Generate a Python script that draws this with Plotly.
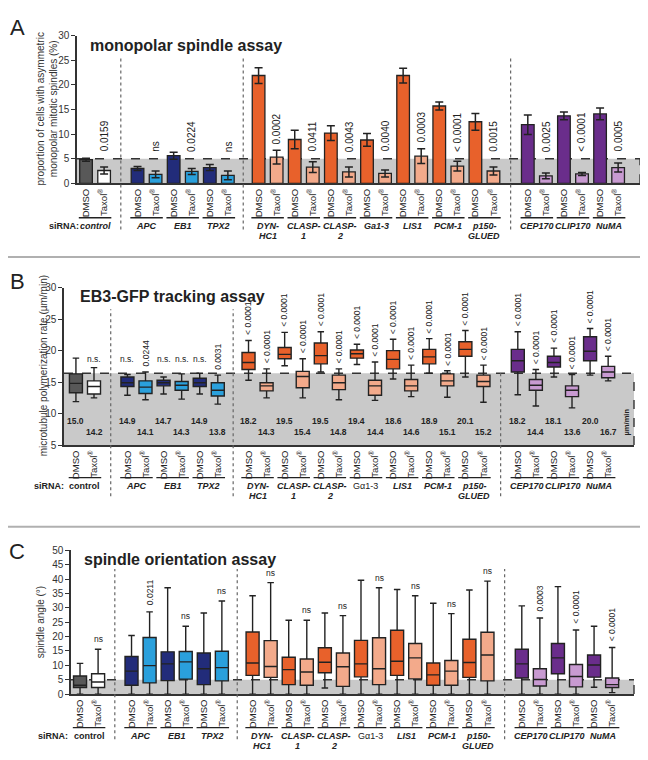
import plotly.graph_objects as go

W, H = 648, 760
FONT = 'Liberation Sans, Arial, sans-serif'

# siRNA groups (14), each with a DMSO and a Taxol condition
groups = ['control', 'APC', 'EB1', 'TPX2', 'DYN-HC1', 'CLASP-1', 'CLASP-2', 'Ga1-3',
          'LIS1', 'PCM-1', 'p150-GLUED', 'CEP170', 'CLIP170', 'NuMA']
group_block = [0, 1, 1, 1, 2, 2, 2, 2, 2, 2, 2, 3, 3, 3]
conditions = ['DMSO', 'Taxol<sup>®</sup>']

# A: monopolar spindle assay (% cells, mean +/- error)
a_dmso = [4.8, 3.0, 5.6, 3.2, 21.9, 8.9, 10.2, 8.8, 21.9, 15.7, 12.5, 11.9, 13.7, 14.1]
a_dmso_err = [0.3, 0.4, 0.7, 0.6, 1.6, 1.9, 1.5, 1.3, 1.5, 0.8, 1.7, 2.0, 0.8, 1.2]
a_taxol = [2.6, 1.8, 2.4, 1.6, 5.3, 3.3, 2.3, 2.0, 5.5, 3.5, 2.5, 1.5, 1.9, 3.2]
a_taxol_err = [0.7, 0.7, 0.6, 0.9, 1.4, 1.1, 1.0, 0.7, 1.5, 1.0, 0.8, 0.6, 0.3, 0.9]
a_pvals = ['0.0159', 'ns', '0.0224', 'ns', '0.0002', '0.0411', '0.0043', '0.0040',
           '0.0003', '< 0.0001', '0.0015', '0.0025', '< 0.0001', '0.0005']
a_threshold = 5

# B: EB3-GFP tracking (µm/min), box stats
b_dmso_lo = [11.9, 12.9, 13.1, 13.1, 15.3, 17.6, 16.6, 17.8, 15.5, 16.4, 15.8, 13.0, 15.8, 16.1]
b_dmso_q1 = [13.3, 14.3, 14.4, 14.3, 17.0, 18.7, 17.9, 18.8, 17.1, 17.9, 19.1, 16.6, 17.4, 18.4]
b_dmso_med = [14.8, 14.9, 14.9, 14.9, 18.1, 19.4, 19.2, 19.5, 18.6, 19.0, 20.2, 18.4, 18.1, 19.9]
b_dmso_q3 = [16.3, 15.8, 15.3, 15.6, 19.7, 20.5, 21.2, 20.1, 20.0, 20.2, 21.4, 20.2, 19.1, 22.2]
b_dmso_hi = [18.8, 16.2, 15.8, 16.4, 21.6, 22.9, 23.0, 21.0, 21.8, 21.9, 23.2, 23.0, 20.4, 23.5]
b_taxol_lo = [12.5, 12.2, 12.3, 11.5, 12.5, 12.5, 12.2, 12.1, 12.7, 12.6, 11.8, 11.2, 10.9, 15.2]
b_taxol_q1 = [13.1, 13.2, 13.7, 12.8, 13.6, 14.1, 13.8, 12.9, 13.6, 14.4, 14.3, 13.7, 12.7, 15.7]
b_taxol_med = [14.3, 14.2, 14.5, 13.7, 14.4, 15.9, 14.9, 14.4, 14.4, 15.2, 15.1, 14.5, 13.7, 16.6]
b_taxol_q3 = [15.2, 15.2, 15.1, 14.9, 14.9, 16.7, 16.1, 15.3, 15.4, 16.3, 16.1, 15.4, 14.4, 17.5]
b_taxol_hi = [17.3, 16.6, 16.3, 16.1, 17.1, 18.7, 17.1, 18.2, 17.7, 16.8, 17.7, 17.0, 16.2, 19.1]
b_dmso_mean = ['15.0', '14.9', '14.7', '14.9', '18.2', '19.5', '19.5', '19.4', '18.6', '18.9', '20.1', '18.2', '18.1', '20.0']
b_taxol_mean = ['14.2', '14.1', '14.3', '13.8', '14.3', '15.4', '14.8', '14.4', '14.6', '15.1', '15.2', '14.4', '13.6', '16.7']
b_dmso_p = ['', 'n.s.', 'n.s.', 'n.s.'] + ['< 0.0001'] * 10
b_taxol_p = ['n.s.', '0.0244', 'n.s.', '0.0031'] + ['< 0.0001'] * 10
b_threshold = 16.4

# C: spindle orientation (degrees), box stats
c_dmso_lo = [0, 0, 0, 0, 0, 0, 2.1, 0, 0, 0, 0, 0, 0, 2.4]
c_dmso_q1 = [2.3, 3.1, 4.7, 3.3, 6.5, 3.3, 7.4, 6.0, 6.5, 3.1, 5.8, 5.6, 7.1, 5.9]
c_dmso_med = [3.1, 8.0, 10.5, 8.8, 10.8, 8.5, 11.1, 10.5, 11.4, 6.7, 11.0, 10.5, 12.6, 10.1]
c_dmso_q3 = [6.3, 13.1, 14.7, 14.3, 21.6, 12.8, 16.1, 18.7, 22.2, 10.8, 19.1, 15.6, 17.6, 13.6]
c_dmso_hi = [10.7, 20.4, 37.0, 28.2, 34.2, 25.7, 28.2, 39.6, 36.4, 31.6, 36.2, 30.7, 37.4, 23.6]
c_taxol_lo = [0, 0, 0, 0, 0, 0, 0, 0, 0, 0, 0, 0, 0, 0.5]
c_taxol_q1 = [2.3, 3.9, 5.2, 4.6, 5.8, 3.1, 2.7, 3.3, 5.3, 3.1, 4.6, 2.8, 2.5, 2.3]
c_taxol_med = [4.2, 9.9, 11.2, 9.2, 9.6, 7.7, 9.5, 8.8, 12.6, 8.0, 13.6, 5.1, 6.1, 3.3]
c_taxol_q3 = [7.1, 19.7, 14.8, 14.9, 18.6, 12.2, 14.3, 19.6, 17.6, 11.7, 21.5, 8.8, 10.3, 5.6]
c_taxol_hi = [15.6, 28.6, 23.6, 32.4, 38.8, 25.7, 27.3, 37.0, 34.2, 28.0, 39.3, 26.5, 22.3, 16.2]
c_taxol_p = ['ns', '0.0211', 'ns', 'ns', 'ns', 'ns', 'ns', 'ns', 'ns', 'ns', 'ns',
             '0.0003', '< 0.0001', '< 0.0001']
c_threshold = 5

# colours per block: (DMSO, Taxol)
palette = {0: ('#585858', '#ffffff'), 1: ('#222c7a', '#2aa0dc'),
           2: ('#e8612b', '#f3aa8b'), 3: ('#6a2d8b', '#c89ad1')}
GRAY = '#c9c9c9'
INK = '#222222'

# the page body adds an 8px margin, so screen pixel p sits at paper pixel p - 8
OFF = 8


def py(p):
    return 1 - (p - OFF) / H


def px(p):
    return (p - OFF) / W


def note(x, y, text, xref='paper', yref='paper', size=10, angle=0, xanchor='center',
         yanchor='middle', color=INK):
    return dict(x=x, y=y, xref=xref, yref=yref, text=text, textangle=angle, showarrow=False,
                xanchor=xanchor, yanchor=yanchor, font=dict(size=size, color=color))


# x positions: unit spacing, bigger gaps between blocks
block_start = {0: 0.0, 1: 2.85, 2: 9.55, 3: 24.45}
pos_d, pos_t = [], []
seen = {}
for b in group_block:
    k = seen.get(b, 0)
    pos_d.append(block_start[b] + 2 * k)
    pos_t.append(block_start[b] + 2 * k + 1)
    seen[b] = k + 1

tickvals, ticktext = [], []
for d, t in zip(pos_d, pos_t):
    tickvals += [d, t]
    ticktext += conditions

separators = [(pos_t[0] + pos_d[1]) / 2, (pos_t[3] + pos_d[4]) / 2, (pos_t[10] + pos_d[11]) / 2]

fig = go.Figure()
shapes = []
annotations = []

# ---------------- panel A: bars ----------------
ys, errs, cols = [], [], []
for i in range(len(groups)):
    c_d, c_t = palette[group_block[i]]
    ys += [a_dmso[i], a_taxol[i]]
    errs += [a_dmso_err[i], a_taxol_err[i]]
    cols += [c_d, c_t]
fig.add_trace(go.Bar(x=tickvals, y=ys, width=0.7,
                     marker=dict(color=cols, line=dict(color=INK, width=1.3)),
                     error_y=dict(type='data', array=errs, color=INK, thickness=1.5, width=4),
                     xaxis='x', yaxis='y', showlegend=False, hoverinfo='skip'))
for i in range(len(groups)):
    top = a_taxol[i] + a_taxol_err[i] + 0.8
    annotations.append(note(pos_t[i], max(6, top), a_pvals[i], 'x', 'y', 10, -90,
                            yanchor='bottom'))


# ---------------- panels B, C: boxes ----------------
def add_boxes(ax, lo_d, q1_d, med_d, q3_d, hi_d, lo_t, q1_t, med_t, q3_t, hi_t):
    for i in range(len(groups)):
        c_d, c_t = palette[group_block[i]]
        for pos, lo, q1, med, q3, hi, col in [
                (pos_d[i], lo_d[i], q1_d[i], med_d[i], q3_d[i], hi_d[i], c_d),
                (pos_t[i], lo_t[i], q1_t[i], med_t[i], q3_t[i], hi_t[i], c_t)]:
            fig.add_trace(go.Box(x=[pos], q1=[q1], median=[med], q3=[q3],
                                 lowerfence=[lo], upperfence=[hi], width=0.72, whiskerwidth=0.5,
                                 fillcolor=col, line=dict(color=INK, width=1.4),
                                 boxpoints=False, xaxis='x' + ax, yaxis='y' + ax,
                                 showlegend=False, hoverinfo='skip'))


add_boxes('2', b_dmso_lo, b_dmso_q1, b_dmso_med, b_dmso_q3, b_dmso_hi,
          b_taxol_lo, b_taxol_q1, b_taxol_med, b_taxol_q3, b_taxol_hi)
add_boxes('3', c_dmso_lo, c_dmso_q1, c_dmso_med, c_dmso_q3, c_dmso_hi,
          c_taxol_lo, c_taxol_q1, c_taxol_med, c_taxol_q3, c_taxol_hi)

for i in range(len(groups)):
    for pos, txt, hi in [(pos_d[i], b_dmso_p[i], b_dmso_hi[i]), (pos_t[i], b_taxol_p[i], b_taxol_hi[i])]:
        if not txt:
            continue
        if txt == 'n.s.':
            annotations.append(note(pos, 18.7, txt, 'x2', 'y2', 8.5))
        else:
            annotations.append(note(pos, hi + 0.5, txt, 'x2', 'y2', 8.5, -90, yanchor='bottom'))
    annotations.append(note(pos_d[i], 8.8, '<b>%s</b>' % b_dmso_mean[i], 'x2', 'y2', 8.5))
    annotations.append(note(pos_t[i], 7.0, '<b>%s</b>' % b_taxol_mean[i], 'x2', 'y2', 8.5))
    txt = c_taxol_p[i]
    if txt == 'ns':
        annotations.append(note(pos_t[i], c_taxol_hi[i] + 1.0, txt, 'x3', 'y3', 8.5,
                                yanchor='bottom'))
    else:
        annotations.append(note(pos_t[i], c_taxol_hi[i] + 1.5, txt, 'x3', 'y3', 8.5, -90,
                                yanchor='bottom'))
annotations.append(note(px(626), py(423), '<b>µm/min</b>', size=7.5, angle=-90))

# ---------------- per-panel frame: gray zone, separators, labels ----------------
panels = [
    # axis suffix, threshold, axis bottom, separator top/bottom px, underline px, siRNA x px, A style
    ('', a_threshold, 0, 52, 227, 215, 64, True),
    ('2', b_threshold, 5, 308, 498, 479, 49, False),
    ('3', c_threshold, 0, 572, 745, 733, 53, False),
]
two_line = {'DYN-HC1': ('DYN-', 'HC1'), 'CLASP-1': ('CLASP-', '1'), 'CLASP-2': ('CLASP-', '2'),
            'p150-GLUED': ('p150-', 'GLUED')}
for ax, thr, y0, sep_top, sep_bot, uline, sirna_x, a_style in panels:
    xr = 'x' + ax if ax else 'x'
    yr = 'y' + ax if ax else 'y'
    shapes.append(dict(type='rect', xref=xr + ' domain', yref=yr, x0=0, x1=1, y0=y0, y1=thr,
                       fillcolor=GRAY, line=dict(width=0), layer='below'))
    shapes.append(dict(type='line', xref=xr + ' domain', yref=yr, x0=0, x1=1, y0=thr, y1=thr,
                       line=dict(color='#333333', width=1.4, dash='dash'), layer='below'))
    shapes.append(dict(type='line', xref=xr + ' domain', yref=yr, x0=1, x1=1, y0=y0, y1=thr,
                       line=dict(color='#333333', width=1.4, dash='dash'), layer='below'))
    for k, s in enumerate(separators):
        top = sep_top
        if ax == '2' and k == 2:
            top = 370
        shapes.append(dict(type='line', xref=xr, yref='paper', x0=s, x1=s, y0=py(sep_bot), y1=py(top),
                           line=dict(color='#666666', width=1.2, dash='dot')))
    for i, g in enumerate(groups):
        shapes.append(dict(type='line', xref=xr, yref='paper', x0=pos_d[i] - 0.4, x1=pos_t[i] + 0.4,
                           y0=py(uline), y1=py(uline), line=dict(color=INK, width=1.3)))
        lines = two_line.get(g, (g,))
        for j, part in enumerate(lines):
            if g == 'control' and not a_style:
                lab = '<b>control</b>'
            elif g == 'Ga1-3' and not a_style:
                lab = 'Gα1-3'
            else:
                lab = '<b><i>%s</i></b>' % part
            annotations.append(note((pos_d[i] + pos_t[i]) / 2, py(uline + 8.5 + 10 * j), lab,
                                    xr, 'paper', size=9))
    annotations.append(note(px(sirna_x), py(uline + 8.5), '<b>siRNA:</b>', size=9))

# titles, panel letters, y-axis titles
for txt, x, y in [('monopolar spindle assay', 88, 40), ('EB3-GFP tracking assay', 78, 295),
                  ('spindle orientation assay', 82, 562)]:
    annotations.append(note(px(x), py(y), '<b>%s</b>' % txt, size=16, xanchor='left'))
for txt, y in [('A', 22), ('B', 280), ('C', 554)]:
    annotations.append(note(px(17), py(y), txt, size=22))
for txt, x, y in [('proportion of cells with asymmetric<br>monopolar mitotic spindles (%)', 47, 105),
                  ('microtubule polymerization rate (µm/min)', 43, 366),
                  ('spindle angle (°)', 40, 626)]:
    annotations.append(note(px(x), py(y), txt, size=10, angle=-90, color='#333333'))

# figure border (right side) and panel dividers
shapes.append(dict(type='line', xref='paper', yref='paper', x0=px(645), x1=px(645), y0=0, y1=1,
                   line=dict(color='#b0b0b0', width=2)))
for yy in [255, 529]:
    shapes.append(dict(type='line', xref='paper', yref='paper', x0=0, x1=px(646), y0=py(yy), y1=py(yy),
                       line=dict(color='#b0b0b0', width=2)))

xcommon = dict(showline=True, linecolor='#333333', linewidth=1.5, ticks='', showgrid=False,
               zeroline=False, tickvals=tickvals, ticktext=ticktext, tickangle=-90,
               tickfont=dict(size=9.5, color=INK))
ycommon = dict(showline=True, linecolor='#333333', linewidth=1.5, ticks='outside', ticklen=4,
               tickcolor='#333333', showgrid=False, zeroline=False, dtick=5,
               tickfont=dict(size=10, color='#333333'))

fig.update_layout(
    width=W, height=H, margin=dict(l=0, r=0, t=0, b=0),
    paper_bgcolor='white', plot_bgcolor='rgba(0,0,0,0)',
    font=dict(family=FONT, color=INK), barmode='overlay', boxmode='overlay',
    xaxis=dict(domain=[px(77), px(640)], range=[-0.5, 30.66], anchor='y', **xcommon),
    yaxis=dict(domain=[py(180), py(30)], range=[0, 30], anchor='x', **ycommon),
    xaxis2=dict(domain=[px(64), px(634)], range=[-0.66, 30.88], anchor='y2', **xcommon),
    yaxis2=dict(domain=[py(446), py(286)], range=[5, 30], anchor='x2', **ycommon),
    xaxis3=dict(domain=[px(71), px(634)], range=[-0.5, 30.66], anchor='y3', **xcommon),
    yaxis3=dict(domain=[py(699), py(553)], range=[0, 50], anchor='x3', **ycommon),
    shapes=shapes, annotations=annotations,
)

fig.write_html("out.html")
